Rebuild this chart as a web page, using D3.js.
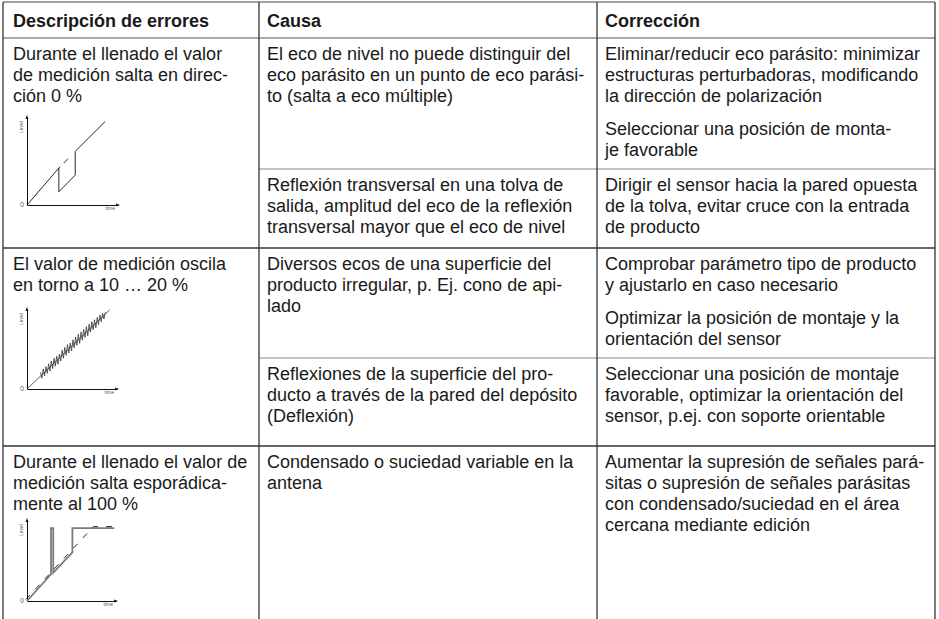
<!DOCTYPE html>
<html><head><meta charset="utf-8">
<script src="https://cdn.jsdelivr.net/npm/d3@7/dist/d3.min.js"></script>
<style>
html,body{margin:0;padding:0;background:#fff;}
svg{display:block;}
</style></head>
<body>
<script>
// ---------- DATA ----------
const headers = ["Descripción de errores", "Causa", "Corrección"];

const errorTexts = [
  ["Durante el llenado el valor", "de medición salta en direc-", "ción 0 %"],
  ["El valor de medición oscila", "en torno a 10 … 20 %"],
  ["Durante el llenado el valor de", "medición salta esporádica-", "mente al 100 %"]
];

const causeTexts = [
  [["El eco de nivel no puede distinguir del", "eco parásito en un punto de eco parási-", "to (salta a eco múltiple)"],
   ["Reflexión transversal en una tolva de", "salida, amplitud del eco de la reflexión", "transversal mayor que el eco de nivel"]],
  [["Diversos ecos de una superficie del", "producto irregular, p. Ej. cono de api-", "lado"],
   ["Reflexiones de la superficie del pro-", "ducto a través de la pared del depósito", "(Deflexión)"]],
  [["Condensado o suciedad variable en la", "antena"]]
];

const fixTexts = [
  [[["Eliminar/reducir eco parásito: minimizar", "estructuras perturbadoras, modificando", "la dirección de polarización"],
    ["Seleccionar una posición de monta-", "je favorable"]],
   [["Dirigir el sensor hacia la pared opuesta", "de la tolva, evitar cruce con la entrada", "de producto"]]],
  [[["Comprobar parámetro tipo de producto", "y ajustarlo en caso necesario"],
    ["Optimizar la posición de montaje y la", "orientación del sensor"]],
   [["Seleccionar una posición de montaje", "favorable, optimizar la orientación del", "sensor, p.ej. con soporte orientable"]]],
  [[["Aumentar la supresión de señales pará-", "sitas o supresión de señales parásitas", "con condensado/suciedad en el área", "cercana mediante edición"]]]
];

const axisLabelX = "time";
const axisLabelY = "Level";
const axisLabelOrigin = "0";

// diagram 1: jump towards 0 %  [time, level]
const diag1Measured = [[0,0],[35,42],[35,15],[53,34],[53,61],[86,95]];
const diag1True = [[35,42],[53,61]];

// diagram 2: oscillating value
const diag2Trend = [[0,0],[92,99]];
const diag2Oscillation = [
  [15,21],[16.5,13.5],[18,25],[19.5,16.5],[21,28],[22.5,19.5],[24,31.5],[25.5,22.5],
  [27,35],[28.5,25.5],[30,38.5],[31.5,28.5],[33,41],[34.5,31],[36,43.5],[37.5,35],
  [39,48.5],[40.5,38.5],[42,52],[43.5,42],[45,55.5],[46.5,45],[48,57.5],[49.5,47.5],
  [51,61.5],[52.5,51.5],[54,65],[55.5,54.5],[57,68.5],[58.5,57],[60,71.5],[61.5,61],
  [63,74.5],[64.5,64.5],[66,78],[67.5,66.5],[69,81],[70.5,71],[72,84],[73.5,74],
  [75,86.5],[76.5,76.5],[78,89.5],[79.5,80.5],[81,92.5],[82.5,84],[84,94.5],[85.5,87.5],[87,96]
];

// diagram 3: sporadic jumps to 100 %
const diag3Measured = [[0,0],[27,33],[27,90],[29.5,90],[29.5,35],[51,60],[51,90],[98,90]];
const diag3True = [[0,0],[76,90],[98,90]];

// ---------- LAYOUT ----------
const W = 939, H = 619;
const colX = [3, 259, 597, 935];
const textX = [13, 267, 605];
const tableTop = 2, headerBottom = 38;
const rowTops = [38, 248, 446];
const tableBottom = 619;
const subRowLines = [169, 358];
const firstBaseline = 22, lineH = 21, paraGap = 12;
const FONT = "'Liberation Sans', Arial, Helvetica, sans-serif";
const FS = 18;

const diagBoxes = [
  {ox: 27, oy: 205, w: 91, h: 88},
  {ox: 27, oy: 389, w: 90, h: 80},
  {ox: 27, oy: 601, w: 89, h: 81}
];

const svg = d3.select("body").append("svg").attr("width", W).attr("height", H);

// ---------- TABLE LINES ----------
const g = svg.append("g");
const line = (x1,y1,x2,y2,c,w) => g.append("line").attr("x1",x1).attr("y1",y1).attr("x2",x2).attr("y2",y2)
  .attr("stroke",c).attr("stroke-width",w);

line(colX[0], tableTop, colX[3], tableTop, "#444", 1.2);
line(colX[0], headerBottom, colX[3], headerBottom, "#8c8c8c", 1.4);
rowTops.slice(1).forEach(y => line(colX[0], y, colX[3], y, "#333", 1.3));
subRowLines.forEach(y => line(colX[1], y, colX[3], y, "#8c8c8c", 1.2));
colX.forEach(x => line(x, tableTop, x, tableBottom, "#333", 1.3));

// ---------- TEXT ----------
const tg = svg.append("g").attr("font-family", FONT).attr("font-size", FS).attr("fill", "#1a1a1a");

headers.forEach((h, i) => {
  tg.append("text").attr("x", textX[i]).attr("y", 26.5).attr("font-weight", "bold").text(h);
});

function writeParas(x, top, paras) {
  let y = top + firstBaseline;
  paras.forEach((p, pi) => {
    if (pi > 0) y += paraGap;
    p.forEach(ln => {
      tg.append("text").attr("x", x).attr("y", y).text(ln);
      y += lineH;
    });
  });
}

errorTexts.forEach((lines, r) => writeParas(textX[0], rowTops[r], [lines]));

causeTexts.forEach((subs, r) => {
  subs.forEach((lines, s) => {
    const top = s === 0 ? rowTops[r] : subRowLines[r];
    writeParas(textX[1], top, [lines]);
  });
});

fixTexts.forEach((subs, r) => {
  subs.forEach((paras, s) => {
    const top = s === 0 ? rowTops[r] : subRowLines[r];
    writeParas(textX[2], top, paras);
  });
});

// ---------- DIAGRAMS ----------
function drawDiagram(box, draw) {
  const dg = svg.append("g");
  const x = d3.scaleLinear().domain([0, 100]).range([box.ox, box.ox + box.w]);
  const y = d3.scaleLinear().domain([0, 100]).range([box.oy, box.oy - box.h]);

  dg.append("g").attr("transform", `translate(0,${box.oy})`)
    .call(d3.axisBottom(x).tickValues([]).tickSizeOuter(0))
    .call(a => a.select(".domain").attr("stroke", "#111").attr("stroke-width", 1));
  dg.append("g").attr("transform", `translate(${box.ox},0)`)
    .call(d3.axisLeft(y).tickValues([]).tickSizeOuter(0))
    .call(a => a.select(".domain").attr("stroke", "#111").attr("stroke-width", 1));
  const xe = x(100), ye = y(100);
  dg.append("path").attr("d", `M${xe+2},${box.oy}L${xe-2},${box.oy-1.5}L${xe-2},${box.oy+1.5}Z`).attr("fill", "#111");
  dg.append("path").attr("d", `M${box.ox},${ye-2}L${box.ox-1.5},${ye+2}L${box.ox+1.5},${ye+2}Z`).attr("fill", "#111");

  const lf = dg.append("g").attr("font-family", FONT).attr("fill", "#555");
  lf.append("text").attr("x", box.ox - 5).attr("y", box.oy + 2).attr("font-size", 6.5)
    .attr("text-anchor", "middle").text(axisLabelOrigin);
  lf.append("text").attr("x", xe - 3).attr("y", box.oy + 5).attr("font-size", 5)
    .attr("text-anchor", "end").text(axisLabelX);
  lf.append("text").attr("transform", `translate(${box.ox - 4},${ye + 10}) rotate(-90)`)
    .attr("font-size", 5).attr("text-anchor", "middle").text(axisLabelY);

  draw(dg, x, y);
}

const lineGen = (x, y) => d3.line().x(d => x(d[0])).y(d => y(d[1]));

drawDiagram(diagBoxes[0], (dg, x, y) => {
  dg.append("path").attr("d", lineGen(x, y)(diag1Measured)).attr("fill", "none")
    .attr("stroke", "#111").attr("stroke-width", 0.9);
  dg.append("path").attr("d", lineGen(x, y)(diag1True)).attr("fill", "none")
    .attr("stroke", "#111").attr("stroke-width", 0.9).attr("stroke-dasharray", "2 5 6 40");
});

drawDiagram(diagBoxes[1], (dg, x, y) => {
  dg.append("path").attr("d", lineGen(x, y)(diag2Trend)).attr("fill", "none")
    .attr("stroke", "#333").attr("stroke-width", 0.8);
  dg.append("path").attr("d", lineGen(x, y)(diag2Oscillation)).attr("fill", "none")
    .attr("stroke", "#222").attr("stroke-width", 0.7);
});

drawDiagram(diagBoxes[2], (dg, x, y) => {
  dg.append("path").attr("d", lineGen(x, y)(diag3Measured)).attr("fill", "none")
    .attr("stroke", "#7a7a7a").attr("stroke-width", 1.8);
  dg.append("path").attr("d", lineGen(x, y)(diag3True)).attr("fill", "none")
    .attr("transform", "translate(-1.2,-1.5)")
    .attr("stroke", "#111").attr("stroke-width", 0.9).attr("stroke-dasharray", "6 8");
});
</script>
</body></html>
